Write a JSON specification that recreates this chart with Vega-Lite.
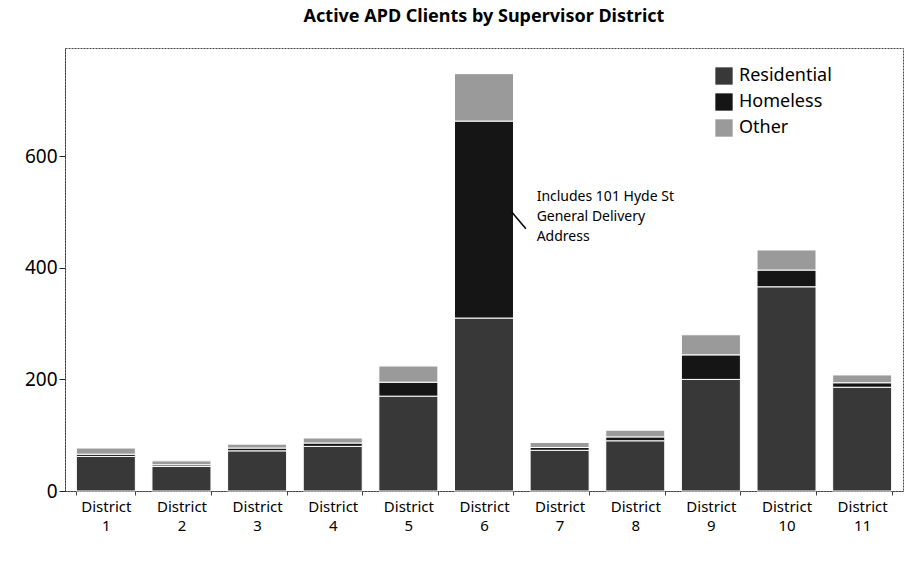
{
  "$schema": "https://vega.github.io/schema/vega-lite/v6.json",
  "autosize": "none",
  "width": 838,
  "height": 443,
  "padding": {"left": 65, "top": 48, "right": 10, "bottom": 80},
  "background": "white",
  "config": {
    "font": "Noto Sans",
    "view": {"stroke": "#444", "strokeWidth": 1, "strokeDash": [2, 1]}
  },
  "title": {
    "text": "Active APD Clients by Supervisor District",
    "fontSize": 18,
    "fontWeight": "bold",
    "color": "#000",
    "anchor": "middle",
    "offset": 22
  },
  "datasets": {
    "clients": [
      {"district": "District 1", "type": "Residential", "order": 1, "value": 62},
      {"district": "District 1", "type": "Homeless", "order": 2, "value": 4},
      {"district": "District 1", "type": "Other", "order": 3, "value": 11},
      {"district": "District 2", "type": "Residential", "order": 1, "value": 44},
      {"district": "District 2", "type": "Homeless", "order": 2, "value": 3},
      {"district": "District 2", "type": "Other", "order": 3, "value": 7},
      {"district": "District 3", "type": "Residential", "order": 1, "value": 72},
      {"district": "District 3", "type": "Homeless", "order": 2, "value": 5},
      {"district": "District 3", "type": "Other", "order": 3, "value": 7},
      {"district": "District 4", "type": "Residential", "order": 1, "value": 80},
      {"district": "District 4", "type": "Homeless", "order": 2, "value": 6},
      {"district": "District 4", "type": "Other", "order": 3, "value": 9},
      {"district": "District 5", "type": "Residential", "order": 1, "value": 170},
      {"district": "District 5", "type": "Homeless", "order": 2, "value": 25},
      {"district": "District 5", "type": "Other", "order": 3, "value": 29},
      {"district": "District 6", "type": "Residential", "order": 1, "value": 310},
      {"district": "District 6", "type": "Homeless", "order": 2, "value": 353},
      {"district": "District 6", "type": "Other", "order": 3, "value": 85},
      {"district": "District 7", "type": "Residential", "order": 1, "value": 73},
      {"district": "District 7", "type": "Homeless", "order": 2, "value": 5},
      {"district": "District 7", "type": "Other", "order": 3, "value": 9},
      {"district": "District 8", "type": "Residential", "order": 1, "value": 90},
      {"district": "District 8", "type": "Homeless", "order": 2, "value": 7},
      {"district": "District 8", "type": "Other", "order": 3, "value": 12},
      {"district": "District 9", "type": "Residential", "order": 1, "value": 200},
      {"district": "District 9", "type": "Homeless", "order": 2, "value": 44},
      {"district": "District 9", "type": "Other", "order": 3, "value": 36},
      {"district": "District 10", "type": "Residential", "order": 1, "value": 366},
      {"district": "District 10", "type": "Homeless", "order": 2, "value": 30},
      {"district": "District 10", "type": "Other", "order": 3, "value": 36},
      {"district": "District 11", "type": "Residential", "order": 1, "value": 186},
      {"district": "District 11", "type": "Homeless", "order": 2, "value": 8},
      {"district": "District 11", "type": "Other", "order": 3, "value": 14}
    ],
    "note": [
      {"district": "District 7", "y": 539, "label": "Includes 101 Hyde St|General Delivery|Address"}
    ],
    "pointer": [
      {"from": "District 6", "to": "District 6", "y1": 500, "y2": 470}
    ]
  },
  "layer": [
    {
      "data": {"name": "clients"},
      "mark": {"type": "bar", "stroke": "white", "strokeWidth": 1},
      "encoding": {
        "x": {
          "field": "district",
          "type": "nominal",
          "sort": null,
          "scale": {"paddingInner": 0.22, "paddingOuter": 0.15},
          "axis": {
            "title": null,
            "labelAngle": 0,
            "labelFontSize": 15,
            "labelColor": "#000",
            "labelLineHeight": 19,
            "labelPadding": 4,
            "labelExpr": "split(datum.label, ' ')",
            "domain": true,
            "domainColor": "#444",
            "domainDash": [2, 1],
            "tickBand": "extent",
            "tickSize": 4,
            "tickColor": "#444"
          }
        },
        "y": {
          "field": "value",
          "type": "quantitative",
          "stack": "zero",
          "scale": {"domain": [0, 794], "nice": false},
          "axis": {
            "title": null,
            "values": [0, 200, 400, 600],
            "grid": false,
            "labelFontSize": 19,
            "labelColor": "#000",
            "tickSize": 6,
            "tickColor": "#222",
            "domainColor": "#444",
            "domainDash": [2, 1],
            "labelPadding": 2
          }
        },
        "color": {
          "field": "type",
          "type": "nominal",
          "sort": ["Residential", "Homeless", "Other"],
          "scale": {"domain": ["Residential", "Homeless", "Other"], "range": ["#383838", "#151515", "#9a9a9a"]},
          "legend": {
            "title": null,
            "orient": "none",
            "legendX": 650,
            "legendY": 19,
            "symbolType": "square",
            "symbolSize": 300,
            "symbolStrokeWidth": 0,
            "labelFontSize": 18,
            "labelColor": "#000",
            "rowPadding": 8,
            "labelOffset": 6
          }
        },
        "order": {"field": "order", "type": "quantitative"}
      }
    },
    {
      "data": {"name": "note"},
      "mark": {"type": "text", "align": "left", "baseline": "top", "dx": -23, "fontSize": 14, "lineHeight": 20, "lineBreak": "|", "color": "#000"},
      "encoding": {
        "x": {"field": "district", "type": "nominal", "sort": null},
        "y": {"field": "y", "type": "quantitative"},
        "text": {"field": "label"}
      }
    },
    {
      "data": {"name": "pointer"},
      "mark": {"type": "rule", "color": "#000", "strokeWidth": 1.5},
      "encoding": {
        "x": {"field": "from", "type": "nominal", "sort": null, "bandPosition": 0.97},
        "x2": {"field": "to", "bandPosition": 1.21},
        "y": {"field": "y1", "type": "quantitative"},
        "y2": {"field": "y2"}
      }
    }
  ]
}
